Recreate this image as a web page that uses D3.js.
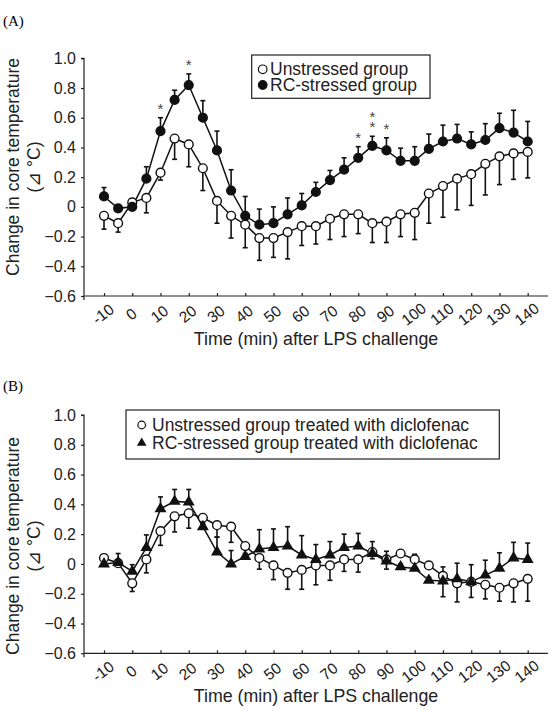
<!DOCTYPE html>
<html>
<head>
<meta charset="utf-8">
<script src="https://cdn.jsdelivr.net/npm/d3@7"></script>
<style>
  body { margin: 0; background: #fff; }
  svg { display: block; font-family: "Liberation Sans", Arial, sans-serif; }
</style>
</head>
<body>
<div id="chart"></div>
<script>
// time points (min after LPS)
const times = [-10, -5, 0, 5, 10, 15, 20, 25, 30, 35, 40, 45, 50, 55, 60, 65, 70,
               75, 80, 85, 90, 95, 100, 105, 110, 115, 120, 125, 130, 135, 140];
const xTicks = [-10, 0, 10, 20, 30, 40, 50, 60, 70, 80, 90, 100, 110, 120, 130, 140];
const yTicks = [-0.6, -0.4, -0.2, 0, 0.2, 0.4, 0.6, 0.8, 1.0];

// Panel A
const unstressedA = [-0.06, -0.11, 0.03, 0.06, 0.23, 0.46, 0.42, 0.26, 0.04, -0.06, -0.12, -0.21, -0.21,
                     -0.17, -0.13, -0.13, -0.08, -0.05, -0.05, -0.11, -0.10, -0.05, -0.04, 0.09, 0.14,
                     0.19, 0.22, 0.29, 0.34, 0.36, 0.37];
const unstressedAErr = [0.09, 0.06, 0.02, 0.10, 0.05, 0.14, 0.15, 0.15, 0.15, 0.15, 0.155, 0.15, 0.13,
                        0.18, 0.13, 0.12, 0.14, 0.15, 0.13, 0.13, 0.14, 0.15, 0.18, 0.20, 0.21,
                        0.21, 0.21, 0.21, 0.19, 0.175, 0.175];
const stressedA = [0.07, -0.01, 0.00, 0.19, 0.51, 0.72, 0.82, 0.60, 0.38, 0.11, -0.06, -0.12, -0.11,
                   -0.05, 0.01, 0.10, 0.18, 0.25, 0.33, 0.41, 0.38, 0.31, 0.31, 0.39, 0.44,
                   0.46, 0.42, 0.45, 0.53, 0.50, 0.44];
const stressedAErr = [0.06, 0.01, 0.01, 0.08, 0.09, 0.065, 0.075, 0.115, 0.13, 0.14, 0.13, 0.105, 0.11,
                      0.11, 0.08, 0.065, 0.065, 0.08, 0.075, 0.065, 0.085, 0.085, 0.095, 0.10, 0.11,
                      0.095, 0.085, 0.11, 0.10, 0.15, 0.135];
// significance marks: time, number of asterisks
const sigA = [[10, 1], [20, 1], [80, 1], [85, 2], [90, 1]];

// Panel B
const unstressedB = [0.04, 0.005, -0.13, 0.03, 0.22, 0.32, 0.34, 0.31, 0.26, 0.25, 0.12, 0.04, -0.01,
                     -0.06, -0.04, -0.01, -0.01, 0.03, 0.03, 0.08, 0.03, 0.07, 0.03, -0.01, -0.08,
                     -0.13, -0.12, -0.14, -0.16, -0.13, -0.10];
const unstressedBErr = [0.01, 0.02, 0.055, 0.09, 0.095, 0.105, 0.10, 0.03, 0.08, 0.105, 0.02, 0.075, 0.095,
                        0.11, 0.13, 0.13, 0.10, 0.08, 0.085, 0.045, 0.065, 0.02, 0.02, 0.02, 0.14,
                        0.125, 0.105, 0.095, 0.09, 0.125, 0.15];
const stressedB = [0.00, 0.01, -0.05, 0.11, 0.37, 0.42, 0.415, 0.25, 0.08, 0.00, 0.05, 0.10, 0.11,
                   0.12, 0.06, 0.03, 0.06, 0.11, 0.12, 0.07, 0.02, -0.02, -0.03, -0.11, -0.115,
                   -0.10, -0.12, -0.075, -0.03, 0.04, 0.03];
const stressedBErr = [0.01, 0.06, 0.045, 0.085, 0.08, 0.08, 0.085, 0.02, 0.10, 0.09, 0.02, 0.13, 0.125,
                      0.13, 0.13, 0.10, 0.09, 0.09, 0.085, 0.08, 0.065, 0.02, 0.095, 0.02, 0.095,
                      0.105, 0.115, 0.10, 0.105, 0.105, 0.11];

const W = 555, H = 717;
const svg = d3.select("#chart").append("svg")
    .attr("width", W)
    .attr("height", H);

const x = d3.scaleLinear().domain([-10, 140]).range([104, 527.7]);
const axisLeftX = 84, axisRightX = 548;

function drawPanel(opts) {
  const y = d3.scaleLinear().domain([-0.6, 1.0]).range([opts.bottom, opts.top]);
  const g = svg.append("g");

  // panel letter
  svg.append("text")
    .attr("x", 3).attr("y", opts.letterY)
    .style("font-family", "'Liberation Serif', 'Times New Roman', serif")
    .style("font-size", "15px")
    .text(opts.letter);

  // Y axis
  const yAxis = g.append("g")
    .attr("transform", `translate(${axisLeftX},0)`)
    .call(d3.axisLeft(y).tickValues(yTicks).tickSize(3).tickPadding(5)
      .tickFormat(d => d === 0 ? "0" : d3.format(".1f")(d)));
  yAxis.select(".domain").attr("d", `M-3,${opts.top}H0V${opts.bottom + 4}`);
  yAxis.selectAll("text").style("font-size", "16px").attr("fill", "#222");
  yAxis.selectAll("line, path").attr("stroke", "#222").attr("stroke-width", 1.2);

  // X axis
  const xAxis = g.append("g")
    .attr("transform", `translate(0,${opts.bottom})`)
    .call(d3.axisBottom(x).tickValues(xTicks).tickSize(-3).tickFormat(""));
  xAxis.select(".domain").attr("d", `M${axisLeftX},0H${axisRightX}`);
  xAxis.selectAll("line, path").attr("stroke", "#222").attr("stroke-width", 1.2);

  g.append("g").selectAll("text")
    .data(xTicks)
    .join("text")
      .attr("transform", d => `translate(${x(d) - 1},${opts.bottom + 18}) rotate(-38)`)
      .attr("text-anchor", "middle")
      .attr("dy", "0.35em")
      .style("font-size", "15.5px")
      .attr("fill", "#222")
      .text(d => d);

  // axis titles
  g.append("text")
    .attr("x", 316).attr("y", opts.bottom + 49)
    .attr("text-anchor", "middle")
    .style("font-size", "17.8px")
    .attr("fill", "#222")
    .text("Time (min) after LPS challenge");

  const yt = g.append("text")
    .attr("transform", `translate(0,${opts.yTitleCenter}) rotate(-90)`)
    .attr("text-anchor", "middle")
    .style("font-size", "17.5px")
    .attr("fill", "#222");
  yt.append("tspan").attr("x", 0).attr("y", 19).text("Change in core temperature");
  yt.append("tspan").attr("x", 0).attr("y", 40).text("(\u22BF \u00B0C)");

  // series
  opts.series.forEach(s => {
    const pts = times.map((t, i) => ({t, v: s.values[i], e: s.err[i]}));
    const sign = s.errDir;

    // error bars
    const eb = g.append("g").attr("stroke", "#111").attr("stroke-width", 1.6);
    eb.selectAll("line.v").data(pts).join("line")
      .attr("x1", d => x(d.t)).attr("x2", d => x(d.t))
      .attr("y1", d => y(d.v)).attr("y2", d => y(d.v + sign * d.e));
    eb.selectAll("line.c").data(pts).join("line")
      .attr("x1", d => x(d.t) - 2.5).attr("x2", d => x(d.t) + 2.5)
      .attr("y1", d => y(d.v + sign * d.e)).attr("y2", d => y(d.v + sign * d.e));

    s.pts = pts;
  });

  opts.series.forEach(s => {
    g.append("path")
      .datum(s.pts)
      .attr("fill", "none")
      .attr("stroke", "#111")
      .attr("stroke-width", 1.5)
      .attr("d", d3.line().x(d => x(d.t)).y(d => y(d.v)));
  });

  opts.series.forEach(s => {
    if (s.shape === "triangle") {
      g.append("g").selectAll("path").data(s.pts).join("path")
        .attr("transform", d => `translate(${x(d.t)},${y(d.v)})`)
        .attr("d", d3.symbol(d3.symbolTriangle, 62)())
        .attr("fill", "#111");
    } else {
      g.append("g").selectAll("circle").data(s.pts).join("circle")
        .attr("cx", d => x(d.t)).attr("cy", d => y(d.v))
        .attr("r", 4.4)
        .attr("fill", s.filled ? "#111" : "#fff")
        .attr("stroke", "#111")
        .attr("stroke-width", 1.4);
    }
  });

  // significance asterisks
  if (opts.sig) {
    const s = opts.series[1];
    opts.sig.forEach(([t, n]) => {
      const i = times.indexOf(t);
      const top = y(s.values[i] + s.err[i]);
      for (let k = 0; k < n; k++) {
        g.append("text")
          .attr("x", x(t)).attr("y", top - 4 - k * 10)
          .attr("text-anchor", "middle")
          .style("font-size", "15px")
          .attr("fill", "#444")
          .text("*");
      }
    });
  }

  // legend
  const L = opts.legend;
  g.append("rect")
    .attr("x", L.x).attr("y", L.y).attr("width", L.w).attr("height", L.h)
    .attr("fill", "#fff").attr("stroke", "#222").attr("stroke-width", 1.2);
  opts.series.forEach((s, i) => {
    const cy = L.y + L.rowY[i];
    if (s.shape === "triangle") {
      g.append("path")
        .attr("transform", `translate(${L.mx},${cy})`)
        .attr("d", d3.symbol(d3.symbolTriangle, L.tri)())
        .attr("fill", "#111");
    } else {
      g.append("circle")
        .attr("cx", L.mx).attr("cy", cy).attr("r", L.r)
        .attr("fill", s.filled ? "#111" : "#fff")
        .attr("stroke", "#111").attr("stroke-width", 1.2);
    }
    g.append("text")
      .attr("x", L.tx).attr("y", cy + 6)
      .style("font-size", "17.5px")
      .attr("fill", "#222")
      .text(s.name);
  });
}

drawPanel({
  letter: "(A)", letterY: 26,
  top: 58.3, bottom: 296,
  yTitleCenter: 167,
  sig: sigA,
  series: [
    {name: "Unstressed group", values: unstressedA, err: unstressedAErr, errDir: -1, filled: false},
    {name: "RC-stressed group", values: stressedA, err: stressedAErr, errDir: 1, filled: true}
  ],
  legend: {x: 251.7, y: 55, w: 178.3, h: 43.3, mx: 262.7, tx: 270, r: 4.3, tri: 60, rowY: [14.3, 30]}
});

drawPanel({
  letter: "(B)", letterY: 391,
  top: 415, bottom: 653.3,
  yTitleCenter: 546,
  series: [
    {name: "Unstressed group treated with diclofenac", values: unstressedB, err: unstressedBErr, errDir: -1, filled: false},
    {name: "RC-stressed group treated with diclofenac", values: stressedB, err: stressedBErr, errDir: 1, shape: "triangle"}
  ],
  legend: {x: 126, y: 410, w: 373.3, h: 49, mx: 141.7, tx: 152, r: 3.8, tri: 40, rowY: [15, 33]}
});
</script>
</body>
</html>
